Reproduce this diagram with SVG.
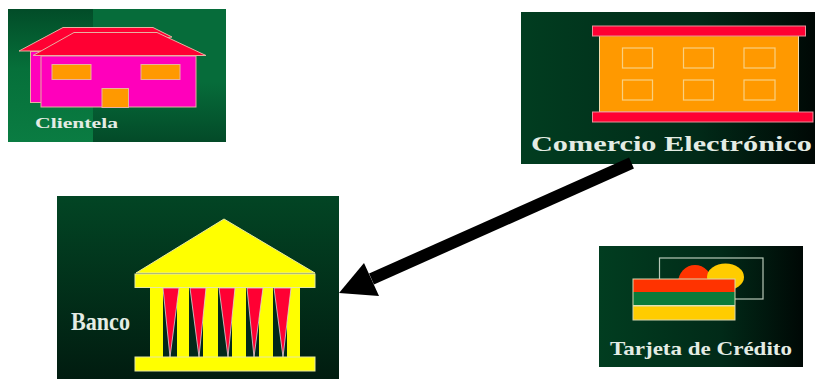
<svg xmlns="http://www.w3.org/2000/svg" width="815" height="379" viewBox="0 0 815 379">
<style>
text{font-family:"Liberation Serif",serif;font-weight:bold;fill:#e4ece4}
.e{stroke:#e8b0a0;stroke-width:1}
.w{fill:none;stroke:#f8d080;stroke-width:1.2}
.r{fill:#ff0033;stroke:#e89098;stroke-width:1}
.y{fill:#ffff00;stroke:#e8e8a0;stroke-width:1}
</style>
<defs>
<linearGradient id="l" x1="0" y1="0" x2="0" y2="1"><stop offset="0" stop-color="#024c28"/><stop offset=".45" stop-color="#06703a"/><stop offset="1" stop-color="#0a7c42"/></linearGradient>
<linearGradient id="rr" x1="0" y1="0" x2="0" y2="1"><stop offset="0" stop-color="#066c3a"/><stop offset=".55" stop-color="#066c3a"/><stop offset="1" stop-color="#034a28"/></linearGradient>
<linearGradient id="b" x1="0" y1="0" x2="1" y2="0"><stop offset="0" stop-color="#013d20"/><stop offset=".6" stop-color="#012a18"/><stop offset="1" stop-color="#000805"/></linearGradient>
<linearGradient id="c" x1="0" y1="0" x2="0" y2="1"><stop offset="0" stop-color="#024524"/><stop offset="1" stop-color="#011c10"/></linearGradient>
</defs>
<g id="clientela">
<rect x="8" y="9" width="85" height="133" fill="url(#l)"/>
<rect x="93" y="9" width="133" height="133" fill="url(#rr)"/>
<rect x="30.500" y="51.500" width="12" height="51" fill="#ff00bb" class="e"/>
<polygon points="19,51 63,27.500 153,27.500 172,37 60,51" fill="#ff0033" class="e"/>
<rect x="41" y="56" width="155" height="51" fill="#ff00bb" class="e"/>
<polygon points="33,55.500 74,32.500 157,32.500 206,55.500" fill="#ff0033" class="e"/>
<rect x="52" y="64.500" width="39" height="15" fill="#ff9900" class="e"/>
<rect x="141" y="64.500" width="39" height="15" fill="#ff9900" class="e"/>
<rect x="102" y="88.500" width="26.500" height="19" fill="#ff9900" class="e"/>
<text x="35" y="127.500" font-size="15" textLength="83" lengthAdjust="spacingAndGlyphs">Clientela</text>
</g>
<g id="comercio">
<rect x="521" y="12" width="294" height="152" fill="url(#b)"/>
<rect x="599.500" y="35" width="199" height="77" fill="#ff9900" stroke="#f3dcae" stroke-width="1"/>
<rect x="592.500" y="26" width="213" height="10" class="r"/>
<rect x="592.500" y="112" width="220.500" height="10" class="r"/>
<rect x="622.500" y="48" width="30" height="20" class="w"/>
<rect x="683.500" y="48" width="30" height="20" class="w"/>
<rect x="744" y="48" width="31" height="20" class="w"/>
<rect x="622.500" y="80" width="30" height="20" class="w"/>
<rect x="683.500" y="80" width="30" height="20" class="w"/>
<rect x="744" y="80" width="31" height="20" class="w"/>
<text x="531" y="151" font-size="20" textLength="281" lengthAdjust="spacingAndGlyphs">Comercio Electrónico</text>
</g>
<g id="banco">
<rect x="57" y="196" width="282" height="183" fill="url(#c)"/>
<polygon points="136,273 224,219 315,273" class="y"/>
<rect x="150" y="287" width="150" height="71" fill="#ffff00"/>
<g fill="#02281a">
<rect x="163" y="288" width="14" height="70"/><rect x="189" y="288" width="14" height="70"/><rect x="218" y="288" width="14" height="70"/><rect x="246" y="288" width="13" height="70"/><rect x="273" y="288" width="14" height="70"/>
</g>
<g fill="#ff0033" stroke="#d8d8d8" stroke-width=".8">
<polygon points="163,288 179,288 170,357"/><polygon points="190,288 206,288 199,357"/><polygon points="219,288 235,288 228,357"/><polygon points="247,288 263,288 254,357"/><polygon points="274,288 291,288 283,357"/>
</g>
<rect x="135" y="274" width="180" height="13.500" class="y"/>
<rect x="135" y="357" width="180" height="14" class="y"/>
<text x="71" y="330" font-size="25" textLength="59" lengthAdjust="spacingAndGlyphs">Banco</text>
</g>
<g id="tarjeta">
<rect x="599" y="246" width="204" height="121" fill="url(#b)"/>
<rect x="659.500" y="258" width="103.500" height="41" fill="none" stroke="#b8c8b8" stroke-width="1.200"/>
<ellipse cx="695" cy="283" rx="17" ry="18" fill="#ff3300"/>
<ellipse cx="725.500" cy="277" rx="18.500" ry="13.500" fill="#ffcc00"/>
<rect x="633" y="279" width="102" height="13" fill="#ff3300"/>
<rect x="633" y="292" width="102" height="13" fill="#0a7a3a"/>
<rect x="633" y="306" width="102" height="14" fill="#ffcc00"/>
<rect x="633" y="305" width="102" height="1.500" fill="#e0e0b0"/>
<rect x="633" y="279" width="102" height="41" fill="none" stroke="#d8d8b0" stroke-width="1"/>
<text x="610" y="355" font-size="19" textLength="182" lengthAdjust="spacingAndGlyphs">Tarjeta de Crédito</text>
</g>
<g id="connectors">
<line x1="631.500" y1="163" x2="371.500" y2="279" stroke="#000" stroke-width="12"/>
<polygon points="339,293 364,263 379,296" fill="#000"/>
</g>
</svg>
